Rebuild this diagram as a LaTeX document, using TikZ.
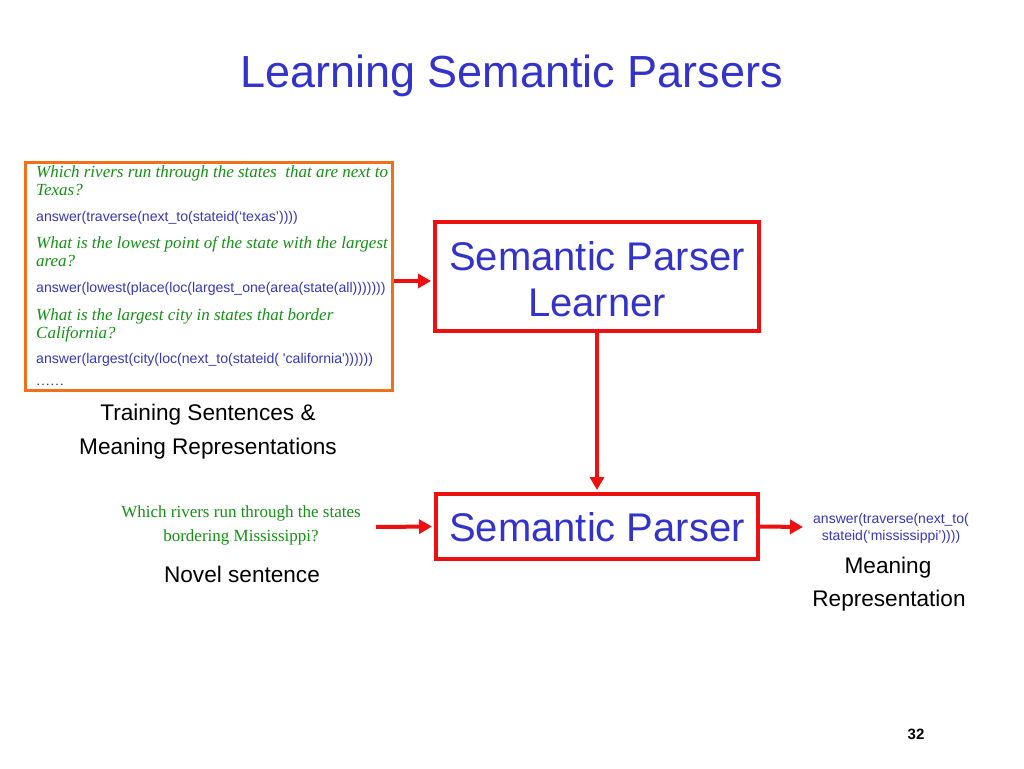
\documentclass[tikz,border=0pt]{standalone}
\usepackage{fontspec}
\setmainfont{Liberation Serif}
\newfontfamily\arial{Liberation Sans}
\usetikzlibrary{arrows.meta}
\definecolor{titleblue}{RGB}{51,51,204}
\definecolor{codeblue}{RGB}{55,55,190}
\definecolor{qgreen}{RGB}{20,145,20}
\definecolor{boxorange}{RGB}{240,112,30}
\definecolor{boxred}{RGB}{238,16,16}
\tikzset{
  question/.style={anchor=base west, inner sep=0pt, text=qgreen, font=\fontsize{17}{19}\selectfont\itshape},
  code/.style={anchor=base west, inner sep=0pt, text=codeblue, font=\arial\fontsize{14.1}{16}\selectfont},
  caption/.style={anchor=base, inner sep=0pt, text=black, font=\arial\fontsize{22.6}{26}\selectfont},
  redbox/.style={draw=boxred, line width=4pt, inner sep=0pt},
  boxtext/.style={anchor=base, inner sep=0pt, text=titleblue, font=\arial\fontsize{40}{46}\selectfont},
  redarrow/.style={draw=boxred, line width=4pt, shorten >=2pt, -{Triangle[length=13pt,width=14pt]}},
}
\begin{document}
\begin{tikzpicture}[x=1pt,y=-1pt]
\useasboundingbox[fill=white] (0,0) rectangle (1024,768);
% title
\node[anchor=base, inner sep=0pt, text=titleblue, font=\arial\fontsize{45}{52}\selectfont] (title) at (511.5,87) {Learning Semantic Parsers};
% training box
\draw[draw=boxorange, line width=3pt] (25.5,162.5) rectangle (392.5,390.5);
\coordinate (obox) at (394,281);
\node[question] (q1a) at (36,177) {Which rivers run through the states \ that are next to};
\node[question] (q1b) at (36,195) {Texas?};
\node[code] (c1) at (36,221) {answer(traverse(next\_to(stateid(‘texas’))))};
\node[question] (q2a) at (36,248) {What is the lowest point of the state with the largest};
\node[question] (q2b) at (36,266) {area?};
\node[code] (c2) at (36,292) {answer(lowest(place(loc(largest\_one(area(state(all)))))))};
\node[question] (q3a) at (36,320) {What is the largest city in states that border};
\node[question] (q3b) at (36,338) {California?};
\node[code] (c3) at (36,363) {answer(largest(city(loc(next\_to(stateid( 'california'))))))};
\node[anchor=base west, inner sep=0pt, text=codeblue, font=\fontsize{14}{16}\selectfont] (dots) at (36,385) {……};
\node[caption] (tr1) at (208,420) {Training Sentences \&};
\node[caption] (tr2) at (208,454) {Meaning Representations};
% learner box
\node[redbox, minimum width=324pt, minimum height=109pt] (learner) at (597,276.5) {};
\node[boxtext] (lt1) at (597,270.5) {Semantic Parser};
\node[boxtext] (lt2) at (597,316.5) {Learner};
% parser box
\node[redbox, minimum width=322pt, minimum height=65pt] (parser) at (597,526.5) {};
\node[boxtext] (pt) at (597,541) {Semantic Parser};
% novel sentence
\node[anchor=base, inner sep=0pt, text=qgreen, font=\fontsize{17}{19}\selectfont] (ns1) at (241,517) {Which rivers run through the states};
\node[anchor=base, inner sep=0pt, text=qgreen, font=\fontsize{17}{19}\selectfont] (ns2) at (241,541) {bordering Mississippi?};
\node[caption] (nov) at (242,582) {Novel sentence};
\coordinate (nsr) at (376,527);
% output
\coordinate (outl) at (803,527);
\node[anchor=base, inner sep=0pt, text=codeblue, font=\arial\fontsize{14}{16}\selectfont] (o1) at (891,523) {answer(traverse(next\_to(};
\node[anchor=base, inner sep=0pt, text=codeblue, font=\arial\fontsize{14}{16}\selectfont] (o2) at (891,540) {stateid(‘mississippi’))))};
\node[caption] (mr1) at (888,573) {Meaning};
\node[caption] (mr2) at (889,606) {Representation};
% arrows
\draw[redarrow] (obox) -- (obox -| learner.west);
\draw[redarrow] (learner.south) -- (parser.north);
\draw[redarrow] (nsr) -- (parser.west);
\draw[redarrow, shorten >=0pt] (parser.east) -- (outl);
% page number
\node[anchor=base, inner sep=0pt, font=\arial\bfseries\fontsize{15}{18}\selectfont] (pg) at (916,739) {32};
\end{tikzpicture}
\end{document}
